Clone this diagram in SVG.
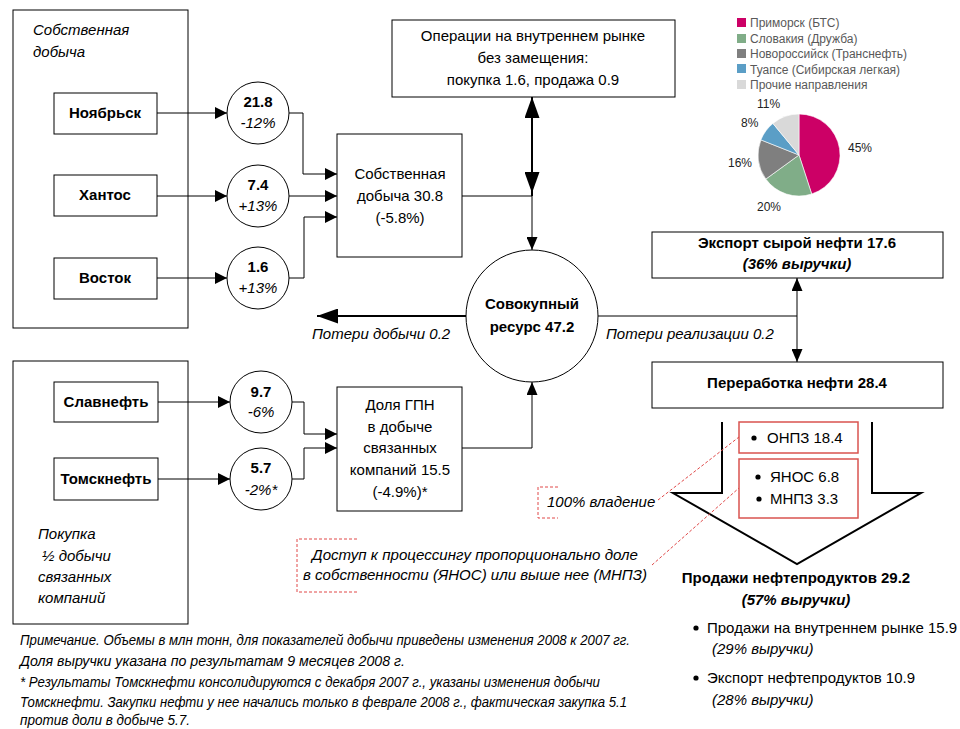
<svg xmlns="http://www.w3.org/2000/svg" width="960" height="729" viewBox="0 0 960 729">
<defs>
<style>
.t{font-family:"Liberation Sans",Arial,sans-serif;font-size:15px;fill:#000}
.b{font-weight:bold}
.i{font-style:italic}
.c{text-anchor:middle}
.box{fill:#fff;stroke:#000;stroke-width:1}
.ln{fill:none;stroke:#000;stroke-width:1}
.thk{fill:none;stroke:#000;stroke-width:2}
.red{fill:#fff;stroke:#d9534f;stroke-width:1.5}
.rd{fill:none;stroke:#e04848;stroke-width:1;stroke-dasharray:3 2}
.lg{font-family:"Liberation Sans",Arial,sans-serif;font-size:12px;fill:#595959}
.pl{font-family:"Liberation Sans",Arial,sans-serif;font-size:12px;fill:#222}
.sl{stroke:#fff;stroke-width:0.6}
.fn{font-size:14px}
</style>
<marker id="ah" viewBox="0 0 12 12" refX="12" refY="6" markerWidth="12" markerHeight="12" markerUnits="userSpaceOnUse" orient="auto"><path d="M0,0 L12,6 L0,12 Z" fill="#000"/></marker>
<marker id="ahS" viewBox="0 0 13 11" refX="13" refY="5.5" markerWidth="13" markerHeight="11" markerUnits="userSpaceOnUse" orient="auto"><path d="M0,0 L13,5.5 L0,11 Z" fill="#000"/></marker>
<marker id="ahB" viewBox="0 0 21 15" refX="21" refY="7.5" markerWidth="21" markerHeight="15" markerUnits="userSpaceOnUse" orient="auto"><path d="M0,0 L21,7.5 L0,15 Z" fill="#000"/></marker>
</defs>
<rect width="960" height="729" fill="#fff"/>

<g id="own-production-group">
<rect class="box" x="13" y="10" width="175" height="318"/>
<text class="t i" x="33" y="35">Собственная</text>
<text class="t i" x="33" y="57">добыча</text>
</g>
<g id="noyabrsk"><rect class="box" x="54" y="93" width="103" height="41"/><text class="t b c" x="105" y="118">Ноябрьск</text></g>
<g id="khantos"><rect class="box" x="54" y="175" width="103" height="41"/><text class="t b c" x="105" y="200">Хантос</text></g>
<g id="vostok"><rect class="box" x="54" y="258" width="103" height="41"/><text class="t b c" x="105" y="283">Восток</text></g>

<g id="c-noyabrsk"><circle class="box" cx="258" cy="113" r="31"/><text class="t b c" x="258" y="107">21.8</text><text class="t i c" x="258" y="128">-12%</text></g>
<g id="c-khantos"><circle class="box" cx="258" cy="196" r="31"/><text class="t b c" x="258" y="190">7.4</text><text class="t i c" x="258" y="211">+13%</text></g>
<g id="c-vostok"><circle class="box" cx="258" cy="278" r="31"/><text class="t b c" x="258" y="272">1.6</text><text class="t i c" x="258" y="293">+13%</text></g>

<g id="own-total"><rect class="box" x="337" y="134" width="125" height="123"/>
<text class="t c" x="400" y="179">Собственная</text>
<text class="t c" x="400" y="201">добыча 30.8</text>
<text class="t c" x="400" y="223">(-5.8%)</text></g>

<g id="domestic-ops"><rect class="box" x="392" y="20" width="283" height="77"/>
<text class="t c" x="533" y="41">Операции на внутреннем рынке</text>
<text class="t c" x="533" y="63">без замещения:</text>
<text class="t c" x="533" y="85">покупка 1.6, продажа 0.9</text></g>

<g id="total-resource"><circle class="box" cx="532" cy="316" r="66"/>
<text class="t b c" x="532" y="309">Совокупный</text>
<text class="t b c" x="532" y="332">ресурс 47.2</text></g>

<g id="affiliates-group"><rect class="box" x="13" y="361" width="175" height="263"/>
<text class="t i" x="38" y="539">Покупка</text>
<text class="t i" x="42" y="561">½ добычи</text>
<text class="t i" x="38" y="582">связанных</text>
<text class="t i" x="38" y="603">компаний</text></g>
<g id="slavneft"><rect class="box" x="54" y="382" width="104" height="40"/><text class="t b c" x="106" y="407">Славнефть</text></g>
<g id="tomskneft"><rect class="box" x="54" y="458" width="104" height="42"/><text class="t b c" x="106" y="484">Томскнефть</text></g>
<g id="c-slavneft"><circle class="box" cx="261" cy="402" r="31"/><text class="t b c" x="261" y="397">9.7</text><text class="t i c" x="261" y="417">-6%</text></g>
<g id="c-tomskneft"><circle class="box" cx="261" cy="479" r="31"/><text class="t b c" x="261" y="473">5.7</text><text class="t i c" x="261" y="495">-2%*</text></g>
<g id="affiliates-share"><rect class="box" x="337" y="387" width="125" height="124"/>
<text class="t c" x="400" y="410">Доля ГПН</text>
<text class="t c" x="400" y="432">в добыче</text>
<text class="t c" x="400" y="453">связанных</text>
<text class="t c" x="400" y="475">компаний 15.5</text>
<text class="t c" x="400" y="497">(-4.9%)*</text></g>

<g id="export-crude"><rect class="box" x="652" y="232" width="291" height="46"/>
<text class="t b c" x="797" y="248">Экспорт сырой нефти 17.6</text>
<text class="t b i c" x="797" y="269">(36% выручки)</text></g>
<g id="refining"><rect class="box" x="652" y="362" width="291" height="46"/>
<text class="t b c" x="797" y="388">Переработка нефти 28.4</text></g>

<g id="products-arrow"><path class="thk" d="M722,422 V493 H673 L797,564 L921,493 H872 V422"/></g>
<g id="onpz"><rect class="red" x="739" y="422" width="119" height="31"/><circle cx="754" cy="438" r="2.6"/><text class="t" x="767" y="443">ОНПЗ 18.4</text></g>
<g id="yanos-mnpz"><rect class="red" x="739" y="459" width="119" height="59"/><circle cx="758" cy="477" r="2.6"/><text class="t" x="770" y="482">ЯНОС 6.8</text><circle cx="759" cy="499" r="2.6"/><text class="t" x="770" y="504">МНПЗ 3.3</text></g>

<g id="product-sales">
<text class="t b c" x="796" y="583">Продажи нефтепродуктов 29.2</text>
<text class="t b i c" x="796" y="605">(57% выручки)</text>
<circle cx="696" cy="628" r="2.6"/>
<text class="t" x="707" y="633">Продажи на внутреннем рынке 15.9</text>
<text class="t i" x="712" y="654">(29% выручки)</text>
<circle cx="696" cy="678" r="2.6"/>
<text class="t" x="707" y="683">Экспорт нефтепродуктов 10.9</text>
<text class="t i" x="712" y="705">(28% выручки)</text>
</g>

<g id="note-ownership">
<path class="rd" d="M558,487 H538 V518 H558"/>
<text class="t i" x="547" y="507">100% владение</text>
<path class="rd" d="M357,539 H297 V592 H357"/>
<text class="t i" x="312" y="560" textLength="326" lengthAdjust="spacingAndGlyphs">Доступ к процессингу пропорционально доле</text>
<text class="t i" x="303" y="580" textLength="344" lengthAdjust="spacingAndGlyphs">в собственности (ЯНОС) или выше нее (МНПЗ)</text>
</g>

<g id="connectors">
<path class="ln" d="M157,113 H227" marker-end="url(#ah)"/>
<path class="ln" d="M157,196 H227" marker-end="url(#ah)"/>
<path class="ln" d="M157,278 H227" marker-end="url(#ah)"/>
<path class="ln" d="M289,113 H303 V174 H337" marker-end="url(#ah)"/>
<path class="ln" d="M289,196 H337" marker-end="url(#ah)"/>
<path class="ln" d="M289,278 H304 V217 H337" marker-end="url(#ah)"/>
<path class="ln" d="M462,196 H532"/>
<path class="thk" d="M532,196 V97" marker-end="url(#ahB)"/>
<path class="thk" d="M532,110 V193" marker-end="url(#ahB)"/>
<path class="ln" d="M532,196 V250" marker-end="url(#ahS)"/>
<path class="ln" d="M158,402 H230" marker-end="url(#ah)"/>
<path class="ln" d="M158,479 H230" marker-end="url(#ah)"/>
<path class="ln" d="M292,402 H304 V434 H337" marker-end="url(#ah)"/>
<path class="ln" d="M292,479 H304 V448 H337" marker-end="url(#ah)"/>
<path class="ln" d="M462,448 H532 V382" marker-end="url(#ahS)"/>
<path class="thk" d="M466,316 H317" marker-end="url(#ahB)"/>
<path class="ln" d="M598,316 H797"/>
<path class="ln" d="M797,316 V278" marker-end="url(#ahS)"/>
<path class="ln" d="M797,316 V362" marker-end="url(#ahS)"/>
<text class="t i" x="312" y="339">Потери добычи 0.2</text>
<text class="t i" x="606" y="339">Потери реализации 0.2</text>
<path class="rd" d="M658,500 L739,437"/>
<path class="rd" d="M652,565 L739,488"/>
</g>

<g id="export-pie">
<rect x="737" y="18" width="9" height="9" fill="#cc0066"/><text class="lg" x="750" y="27">Приморск (БТС)</text>
<rect x="737" y="34" width="9" height="9" fill="#80ad88"/><text class="lg" x="750" y="43">Словакия (Дружба)</text>
<rect x="737" y="49" width="9" height="9" fill="#7f7f7f"/><text class="lg" x="750" y="58">Новороссийск (Транснефть)</text>
<rect x="737" y="64" width="9" height="9" fill="#5b9ec6"/><text class="lg" x="750" y="74">Туапсе (Сибирская легкая)</text>
<rect x="737" y="80" width="9" height="9" fill="#d9d9d9"/><text class="lg" x="750" y="89">Прочие направления</text>
<path class="sl" fill="#cc0066" d="M799,155 L799,114 A41,41 0 0 1 811.7,194 Z"/>
<path class="sl" fill="#80ad88" d="M799,155 L811.7,194 A41,41 0 0 1 765.8,179.1 Z"/>
<path class="sl" fill="#7f7f7f" d="M799,155 L765.8,179.1 A41,41 0 0 1 760.9,139.9 Z"/>
<path class="sl" fill="#5b9ec6" d="M799,155 L760.9,139.9 A41,41 0 0 1 772.9,123.4 Z"/>
<path class="sl" fill="#d9d9d9" d="M799,155 L772.9,123.4 A41,41 0 0 1 799,114 Z"/>
<text class="pl" x="848" y="152">45%</text>
<text class="pl" x="757" y="211">20%</text>
<text class="pl" x="728" y="167">16%</text>
<text class="pl" x="741" y="127">8%</text>
<text class="pl" x="757" y="108">11%</text>
</g>

<g id="footnote">
<text class="t i fn" x="20" y="645" textLength="610" lengthAdjust="spacingAndGlyphs">Примечание. Объемы в млн тонн, для показателей добычи приведены изменения 2008 к 2007 гг.</text>
<text class="t i fn" x="20" y="666" textLength="385" lengthAdjust="spacingAndGlyphs">Доля выручки указана по результатам 9 месяцев 2008 г.</text>
<text class="t i fn" x="20" y="687" textLength="580" lengthAdjust="spacingAndGlyphs">* Результаты Томскнефти консолидируются с декабря 2007 г., указаны изменения добычи</text>
<text class="t i fn" x="20" y="707" textLength="607" lengthAdjust="spacingAndGlyphs">Томскнефти. Закупки нефти у нее начались только в феврале 2008 г., фактическая закупка 5.1</text>
<text class="t i fn" x="20" y="725" textLength="170" lengthAdjust="spacingAndGlyphs">против доли в добыче 5.7.</text>
</g>
</svg>
